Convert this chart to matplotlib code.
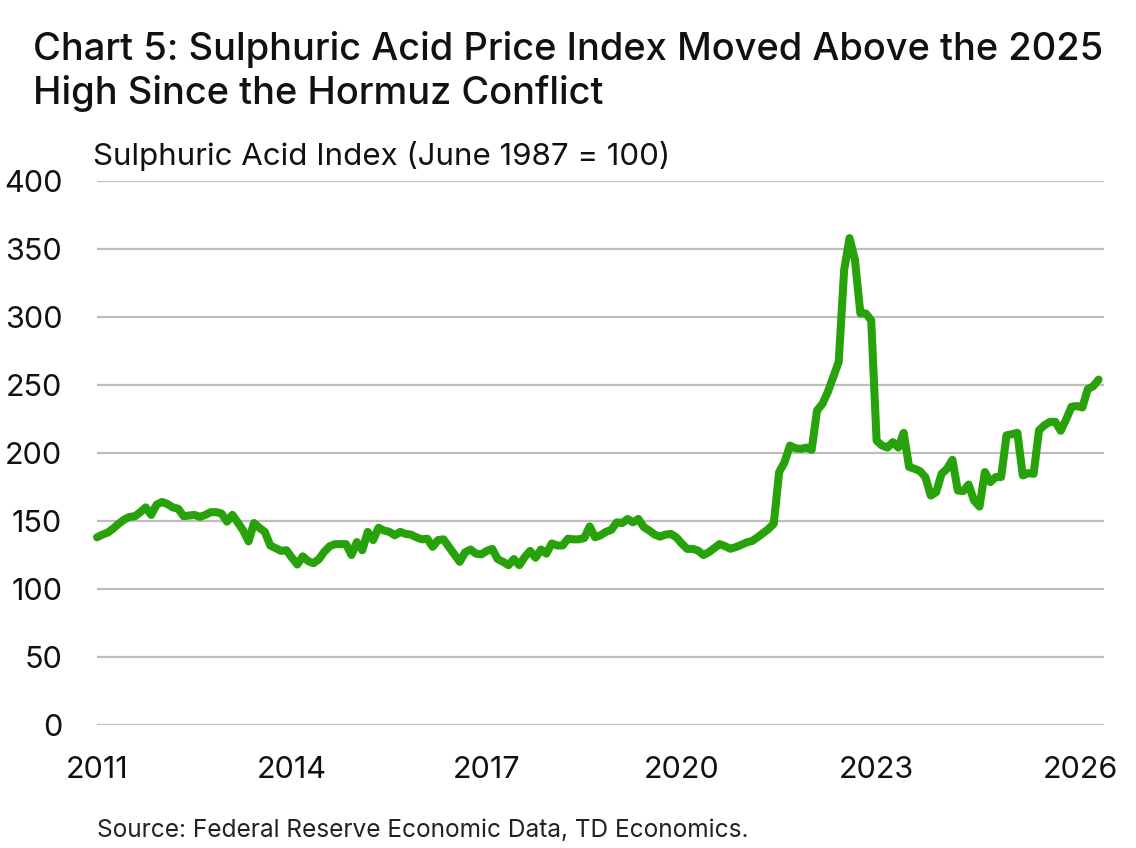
import matplotlib
matplotlib.use("Agg")
import matplotlib.pyplot as plt
import matplotlib.transforms as mtransforms
import numpy as np

# ---- data (monthly, starting Jan 2011) ----
start_year = 2011
index_values = [
    138, 140, 141.5, 144.5, 148, 151, 153, 153.5, 156.5, 160,
    154.5, 162, 164, 162.5, 160, 159, 153.5, 154, 154.5, 153,
    154.5, 156.5, 156.5, 155.5, 149.5, 154.5, 149, 143, 135, 148.5,
    145, 142, 132, 130, 128, 128.5, 123, 118,
    124, 120.5, 119, 122, 127.5, 131.5, 133, 133, 133, 125,
    134.5, 128.5, 142, 136, 145, 143, 142, 139.5, 142, 140.5,
    140, 138, 136.5, 137, 131, 136, 136.5, 131, 125.5, 120,
    127, 129, 126, 125.5, 128, 129.5, 122,
    120, 117.5, 122, 117.5, 123.5, 128, 123, 129, 126, 133.5,
    132, 132, 137, 136.5, 136.5, 137.5, 146, 138, 139.5, 142,
    143.5, 149, 148.5, 151.5, 149, 151.5, 145.5, 143, 140, 138.5,
    140, 140.5, 138, 133.5, 129.5,
    129.5, 128.3, 125, 127, 130, 133, 131.5, 129.6, 130.8, 132.5,
    134.3, 135.3, 138, 141, 144, 148, 186, 193.3, 205.5, 203.5,
    203, 204, 202.3, 231.3, 236.2, 245, 256, 267, 334.5, 358,
    342, 302.6, 302.6, 297.6,
    209, 205.5, 204, 208, 204, 214.8, 189.7, 188.4, 186.7, 182.3,
    168.7, 171.2, 184.7, 188.4, 195, 172.4, 172, 176.8, 165, 160.6,
    186, 178.6, 182.3, 182.3, 213, 213.8, 214.8, 183.5, 185.2, 184.7,
    216.7, 220.4, 222.9, 222.9, 216.3, 224.6, 234, 234.5, 233.5, 247,
    249, 254,
]
year_ticks = [2011, 2014, 2017, 2020, 2023, 2026]
y_ticks = [0, 50, 100, 150, 200, 250, 300, 350, 400]

title_lines = ["Chart 5: Sulphuric Acid Price Index Moved Above the 2025",
               "High Since the Hormuz Conflict"]
y_label = "Sulphuric Acid Index (June 1987 = 100)"
source = "Source: Federal Reserve Economic Data, TD Economics."

# ---- figure ----
W, H = 1136, 848
fig = plt.figure(figsize=(W / 100, H / 100), dpi=100)
plt.rcParams['font.family'] = ['Inter', 'DejaVu Sans']

x = start_year + np.arange(len(index_values)) / 12.0

left, right, top, bottom = 97, 1104, 181, 725
ax = fig.add_axes([left / W, 1 - bottom / H, (right - left) / W, (bottom - top) / H])
ax.plot(x, index_values, color="#27A20A", lw=5.8, solid_joinstyle="round",
        solid_capstyle="round", zorder=3, clip_on=False)

ax.set_xlim(2011, 2026.5)
ax.set_ylim(0, 400)
ax.set_yticks(y_ticks)
ax.set_xticks(year_ticks)
ax.set_xticklabels([str(y) for y in year_ticks])
ax.grid(axis="y", color="#BEBEBE", lw=1.6, zorder=0)
ax.grid(axis="x", visible=False)
for s in ax.spines.values():
    s.set_visible(False)
ax.tick_params(axis="both", length=0, labelsize=22, colors="#111111")
ax.tick_params(axis="y", pad=25)
ax.tick_params(axis="x", pad=22)

# last x label sits slightly right in the reference
last = ax.get_xticklabels()[-1]
last.set_transform(last.get_transform() +
                   mtransforms.ScaledTranslation(9 / 100, 0, fig.dpi_scale_trans))

fig.text(33 / W, 1 - 60 / H, title_lines[0], fontsize=27.4, fontweight="medium",
         color="#111111", va="baseline", ha="left")
fig.text(33 / W, 1 - 104 / H, title_lines[1], fontsize=27.4, fontweight="medium",
         color="#111111", va="baseline", ha="left")
fig.text(93 / W, 1 - 165 / H, y_label, fontsize=22.5, color="#111111",
         va="baseline", ha="left")
fig.text(97 / W, 1 - 837 / H, source, fontsize=17.6, color="#222222",
         va="baseline", ha="left")

fig.savefig("out.png", dpi=100)
